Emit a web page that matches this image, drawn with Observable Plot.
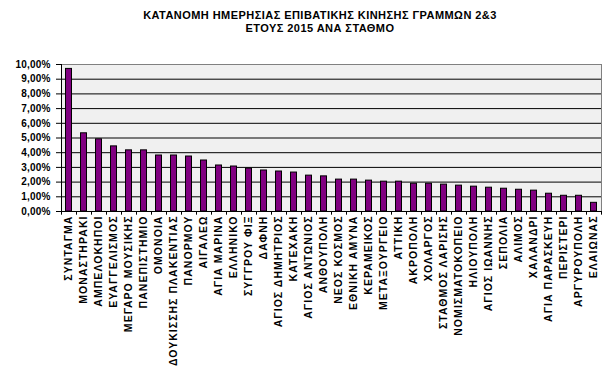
<!DOCTYPE html>
<html>
<head>
<meta charset="utf-8">
<script src="https://cdn.jsdelivr.net/npm/d3@7"></script>
<script src="https://cdn.jsdelivr.net/npm/@observablehq/plot@0.6"></script>
<style>
  html, body { margin: 0; padding: 0; background: #fff; }
  #wrap { position: relative; width: 612px; height: 369px; overflow: hidden; }
  #title { position: absolute; top: 9px; left: 0; width: 640px; text-align: center;
           font: bold 11px Arial, "Liberation Sans", sans-serif; line-height: 13.4px; color: #000;
           letter-spacing: 0.45px; }
  #chart { position: absolute; top: 0; left: 0; }
</style>
</head>
<body>
<div id="wrap">
  <div id="chart"></div>
  <div id="title">ΚΑΤΑΝΟΜΗ ΗΜΕΡΗΣΙΑΣ ΕΠΙΒΑΤΙΚΗΣ ΚΙΝΗΣΗΣ ΓΡΑΜΜΩΝ 2&amp;3<br>ΕΤΟΥΣ 2015 ΑΝΑ ΣΤΑΘΜΟ</div>
</div>
<script>
const stations = [
  "ΣΥΝΤΑΓΜΑ", "ΜΟΝΑΣΤΗΡΑΚΙ", "ΑΜΠΕΛΟΚΗΠΟΙ", "ΕΥΑΓΓΕΛΙΣΜΟΣ", "ΜΕΓΑΡΟ ΜΟΥΣΙΚΗΣ",
  "ΠΑΝΕΠΙΣΤΗΜΙΟ", "ΟΜΟΝΟΙΑ", "ΔΟΥΚΙΣΣΗΣ ΠΛΑΚΕΝΤΙΑΣ", "ΠΑΝΟΡΜΟΥ", "ΑΙΓΑΛΕΩ",
  "ΑΓΙΑ ΜΑΡΙΝΑ", "ΕΛΛΗΝΙΚΟ", "ΣΥΓΓΡΟΥ ΦΙΞ", "ΔΑΦΝΗ", "ΑΓΙΟΣ ΔΗΜΗΤΡΙΟΣ",
  "ΚΑΤΕΧΑΚΗ", "ΑΓΙΟΣ ΑΝΤΩΝΙΟΣ", "ΑΝΘΟΥΠΟΛΗ", "ΝΕΟΣ ΚΟΣΜΟΣ", "ΕΘΝΙΚΗ ΑΜΥΝΑ",
  "ΚΕΡΑΜΕΙΚΟΣ", "ΜΕΤΑΞΟΥΡΓΕΙΟ", "ΑΤΤΙΚΗ", "ΑΚΡΟΠΟΛΗ", "ΧΟΛΑΡΓΟΣ",
  "ΣΤΑΘΜΟΣ ΛΑΡΙΣΗΣ", "ΝΟΜΙΣΜΑΤΟΚΟΠΕΙΟ", "ΗΛΙΟΥΠΟΛΗ", "ΑΓΙΟΣ ΙΩΑΝΝΗΣ", "ΣΕΠΟΛΙΑ",
  "ΑΛΙΜΟΣ", "ΧΑΛΑΝΔΡΙ", "ΑΓΙΑ ΠΑΡΑΣΚΕΥΗ", "ΠΕΡΙΣΤΕΡΙ", "ΑΡΓΥΡΟΥΠΟΛΗ", "ΕΛΑΙΩΝΑΣ"
];
const shares = [
  9.70, 5.32, 4.91, 4.43, 4.16,
  4.16, 3.81, 3.81, 3.74, 3.47,
  3.13, 3.06, 2.92, 2.79, 2.72,
  2.65, 2.44, 2.39, 2.17, 2.17,
  2.10, 2.03, 2.03, 1.89, 1.89,
  1.83, 1.76, 1.69, 1.62, 1.55,
  1.48, 1.42, 1.21, 1.07, 1.07, 0.59
];
const yTicks = [0, 1, 2, 3, 4, 5, 6, 7, 8, 9, 10];
const gridLines = [1, 2, 3, 4, 5, 6, 7, 8, 9];

const data = stations.map((s, i) => ({station: s, value: shares[i]}));

const W = 612, H = 369, ML = 61, MR = 11, MT = 64, MB = 158;
const half = (W - ML - MR) / stations.length / 2;
const fmt = d => d.toFixed(2).replace(".", ",") + "%";
const font = "Arial, 'Liberation Sans', sans-serif";

const chart = Plot.plot({
  width: W,
  height: H,
  marginLeft: ML,
  marginRight: MR,
  marginTop: MT,
  marginBottom: MB,
  style: {fontFamily: font, fontSize: "10px", fontWeight: "bold", color: "#000", background: "transparent", overflow: "visible"},
  x: {domain: stations, padding: 0, label: null},
  y: {domain: [0, 10], label: null},
  marks: [
    Plot.frame({fill: "#f0f0f0", stroke: null}),
    Plot.ruleY(gridLines, {stroke: "#000", strokeWidth: 1}),
    Plot.barY(data, {x: "station", y: "value", fill: "#800080", stroke: "#000", strokeWidth: 1, insetLeft: 4.5, insetRight: 4.5}),
    Plot.frame({stroke: "#808080", strokeWidth: 1}),
    Plot.ruleY([0], {stroke: "#000", strokeWidth: 1}),
    Plot.axisY({ticks: yTicks, tickFormat: fmt, tickSize: 5, tickPadding: 6, stroke: "#000", fontWeight: "bold"}),
    Plot.ruleX(stations, {x: d => d, dx: -half, y1: 0, y2: -0.25, stroke: "#000", clip: false}),
    Plot.ruleX(stations.slice(-1), {x: d => d, dx: half, y1: 0, y2: -0.25, stroke: "#000", clip: false}),
    Plot.ruleX(stations.slice(0, 1), {x: d => d, dx: -half, y1: 0, y2: 10, stroke: "#000"}),
    Plot.axisX({tickRotate: -90, tickSize: 0, tickPadding: 4, fontWeight: "bold", fontSize: 10.5})
  ]
});
d3.select(chart).selectAll('g[aria-label="x-axis tick label"] text').style("letter-spacing", "1.05px");
d3.select(chart).selectAll('g[aria-label="y-axis tick label"] text').style("letter-spacing", "0.2px");
document.getElementById("chart").append(chart);
</script>
</body>
</html>
